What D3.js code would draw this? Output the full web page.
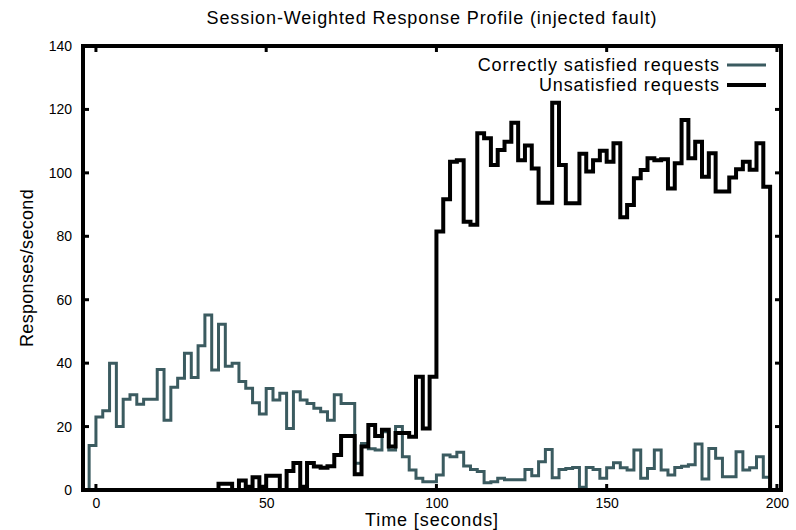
<!DOCTYPE html>
<html>
<head>
<meta charset="utf-8">
<script src="https://cdn.jsdelivr.net/npm/d3@7"></script>
<style>
  html, body { margin: 0; padding: 0; background: #fff; }
  svg { display: block; }
  text { font-family: "Liberation Sans", Arial, sans-serif; fill: #000; }
</style>
</head>
<body>
<svg id="chart" width="796" height="530"></svg>
<script>
// Two-second bins, the first one starting at t = -2 s
const binStart = -2;
const binWidth = 2;

// Responses per second in each bin
const satisfied = [
  14, 23, 25, 40, 20, 28.6, 30, 27, 28.6, 28.6,
  38, 22, 32.4, 35.2, 43.1, 35.5, 45.5, 55.2, 37.8, 52.3,
  39, 40, 34.2, 32.1, 27.5, 24, 32, 28.4, 30.5, 19.4,
  31, 28.4, 27.3, 25.8, 24.7, 22, 30, 27.3, 27.3, 8.4,
  14.7, 13, 12.6, 18.4, 12.6, 20, 10.5, 6.3, 3.7, 2.6,
  2.6, 4.7, 11, 10.5, 11.9, 7.6, 6.5, 5.8, 2.3, 2.6,
  3.7, 3.2, 3.2, 3.2, 6.5, 4.5, 8.9, 12.8, 3.9, 6.5,
  6.8, 7.1, 0.9, 7.1, 6.5, 3.7, 7, 8.6, 7, 6.3,
  12.6, 3.7, 6.8, 12.6, 6.3, 4.7, 7.1, 7.5, 8, 14.5,
  3.5, 13.1, 10, 4.2, 4.2, 12.1, 6.3, 7, 10.5, 4
];

const unsatisfied = [
  0, 0, 0, 0, 0, 0, 0, 0, 0, 0,
  0, 0, 0, 0, 0, 0, 0, 0, 0, 2,
  2, 0, 3, 1, 4, 1, 4.5, 4.5, 0, 6,
  8.5, 1, 8.5, 7.4, 7, 7.5, 11, 17, 17, 5,
  13.7, 20.5, 17, 19, 13.7, 18, 18, 16.8, 35.7, 19.4,
  35.7, 81.5, 91.7, 103.5, 104, 84.6, 83.6, 112.5, 110.9, 102.5,
  107.2, 109.8, 115.8, 104, 108.6, 101.4, 90.6, 90.6, 122.1, 102.5,
  90.4, 90.4, 106, 100.4, 104, 107, 103.5, 109.3, 86, 89.9,
  98.3, 100.9, 104.6, 104, 104.3, 95.1, 103, 116.7, 104.6, 109.8,
  98.8, 106.2, 94.1, 94.1, 98.5, 101.1, 103.5, 101, 109.3, 95.6
];

const xTicks = [0, 50, 100, 150, 200];
const yTicks = [0, 20, 40, 60, 80, 100, 120, 140];

const titleText = "Session-Weighted Response Profile (injected fault)";
const xLabel = "Time [seconds]";
const yLabel = "Responses/second";
const seriesNames = ["Correctly satisfied requests", "Unsatisfied requests"];
const seriesColors = ["#3b5b60", "#000000"];
const seriesWidths = [3, 4];

const svg = d3.select("#chart");
const plotLeft = 83, plotRight = 781, plotTop = 46, plotBottom = 490;
const labelFont = 18, labelSpacing = 0.9;

const x = d3.scaleLinear().domain([-3.8, 201.2]).range([plotLeft, plotRight]);
const y = d3.scaleLinear().domain([0, 140]).range([plotBottom, plotTop]);

// Turn a list of bin values into step vertices that start and end on the baseline
function stepPoints(values) {
  const pts = [[binStart, 0]];
  values.forEach((v, i) => pts.push([binStart + i * binWidth, v]));
  const end = binStart + values.length * binWidth;
  pts.push([end, values[values.length - 1]]);
  pts.push([end, 0]);
  return pts;
}

const line = d3.line()
  .x(d => x(d[0]))
  .y(d => y(d[1]))
  .curve(d3.curveStepAfter);

const plot = svg.append("g");
[satisfied, unsatisfied].forEach((vals, i) => {
  plot.append("path")
    .attr("d", line(stepPoints(vals)))
    .attr("fill", "none")
    .attr("stroke", seriesColors[i])
    .attr("stroke-width", seriesWidths[i])
    .attr("stroke-linejoin", "miter")
    .attr("stroke-linecap", "square");
});

// Frame with inward ticks on all four sides
const frame = svg.append("g");
const tickLen = 6;
yTicks.forEach(v => {
  frame.append("line").attr("x1", plotLeft).attr("x2", plotLeft + tickLen)
    .attr("y1", y(v)).attr("y2", y(v)).attr("stroke", "#000").attr("stroke-width", 3);
  frame.append("line").attr("x1", plotRight).attr("x2", plotRight - tickLen)
    .attr("y1", y(v)).attr("y2", y(v)).attr("stroke", "#000").attr("stroke-width", 3);
});
xTicks.forEach(v => {
  frame.append("line").attr("x1", x(v)).attr("x2", x(v))
    .attr("y1", plotBottom).attr("y2", plotBottom - tickLen).attr("stroke", "#000").attr("stroke-width", 3);
  frame.append("line").attr("x1", x(v)).attr("x2", x(v))
    .attr("y1", plotTop).attr("y2", plotTop + tickLen).attr("stroke", "#000").attr("stroke-width", 3);
});
frame.append("rect")
  .attr("x", plotLeft).attr("y", plotTop)
  .attr("width", plotRight - plotLeft).attr("height", plotBottom - plotTop)
  .attr("fill", "none").attr("stroke", "#000").attr("stroke-width", 4);

// Tick labels
const yAxis = d3.axisLeft(y).tickValues(yTicks).tickSize(0).tickPadding(0);
const yG = svg.append("g").attr("transform", `translate(${plotLeft - 11},0)`).call(yAxis);
yG.select(".domain").remove();
yG.selectAll("text").attr("font-size", 14).attr("font-family", "Liberation Sans, Arial, sans-serif");

const xAxis = d3.axisBottom(x).tickValues(xTicks).tickSize(0).tickPadding(0);
const xG = svg.append("g").attr("transform", `translate(0,${plotBottom + 8})`).call(xAxis);
xG.select(".domain").remove();
xG.selectAll("text").attr("font-size", 14).attr("font-family", "Liberation Sans, Arial, sans-serif");

// Titles
svg.append("text").attr("x", (plotLeft + plotRight) / 2).attr("y", 24)
  .attr("text-anchor", "middle").attr("font-size", labelFont).attr("letter-spacing", labelSpacing)
  .text(titleText);
svg.append("text").attr("x", (plotLeft + plotRight) / 2).attr("y", 526)
  .attr("text-anchor", "middle").attr("font-size", labelFont).attr("letter-spacing", labelSpacing)
  .text(xLabel);
svg.append("text")
  .attr("transform", `translate(33,${(plotTop + plotBottom) / 2}) rotate(-90)`)
  .attr("text-anchor", "middle").attr("font-size", labelFont).attr("letter-spacing", 0.3)
  .text(yLabel);

// Legend
const legend = svg.append("g");
seriesNames.forEach((name, i) => {
  const ly = 65 + i * 20;
  legend.append("text").attr("x", 720).attr("y", ly + 6)
    .attr("text-anchor", "end").attr("font-size", labelFont).attr("letter-spacing", labelSpacing)
    .text(name);
  legend.append("line").attr("x1", 727).attr("x2", 766)
    .attr("y1", ly).attr("y2", ly)
    .attr("stroke", seriesColors[i]).attr("stroke-width", seriesWidths[i]);
});
</script>
</body>
</html>
